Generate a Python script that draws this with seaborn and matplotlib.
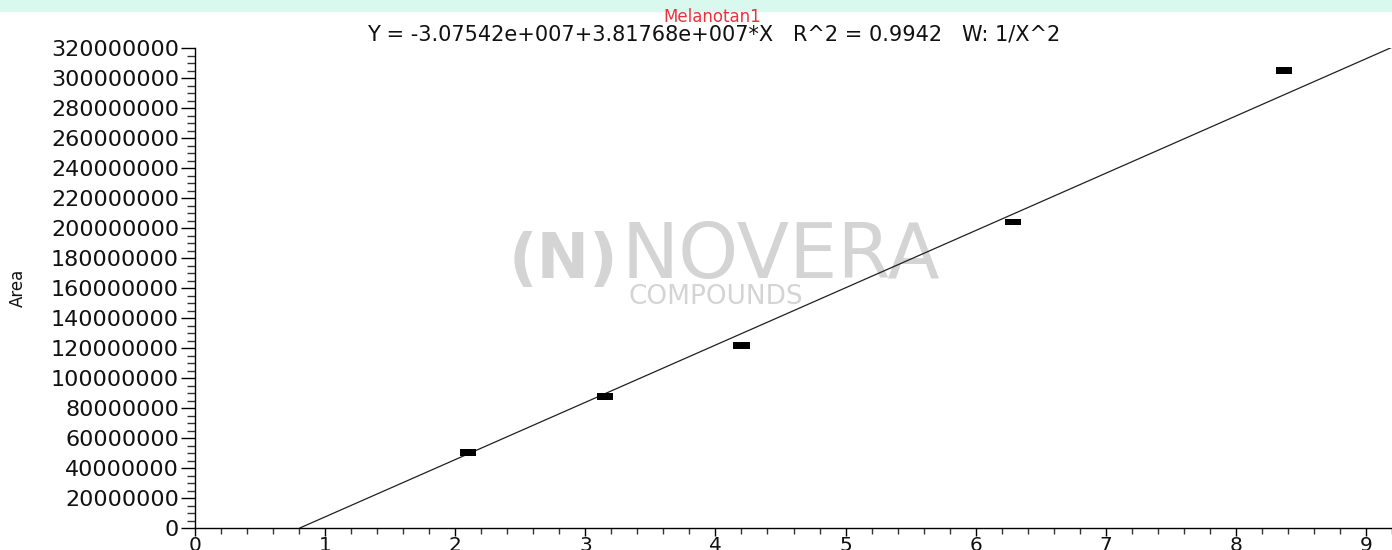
import numpy as np
import pandas as pd
import matplotlib
matplotlib.use("Agg")
import matplotlib.pyplot as plt
from matplotlib.ticker import MultipleLocator, FuncFormatter
from matplotlib.patches import Rectangle
import seaborn as sns

# ---- data ----
conc = [2.10, 3.15, 4.20, 6.29, 8.37]
area = [50.5e6, 87.5e6, 121.5e6, 204.0e6, 305.0e6]
intercept = -3.07542e7
slope = 3.81768e7
compound = "Melanotan1"
equation = "Y = -3.07542e+007+3.81768e+007*X   R^2 = 0.9942   W: 1/X^2"
x_limits = [0, 9.2]
y_limits = [0, 320e6]

sns.set_theme(style="white")
plt.rcParams['font.family'] = ['DejaVu Sans']

fig = plt.figure(figsize=(13.92, 5.5), dpi=100)
fig.patches.append(Rectangle((0, 1 - 12 / 550), 1, 12 / 550, transform=fig.transFigure,
                             facecolor="#d9f8ee", edgecolor="none", zorder=0))
ax = fig.add_axes([195 / 1392, 22 / 550, 1 - 195 / 1392, 480 / 550])
ax.set_facecolor("white")

# watermark
ax.text(0.262, 0.521, "(N)", transform=ax.transAxes, fontsize=45, fontweight="bold",
        color="#d4d4d4", ha="left", va="baseline", zorder=0)
ax.text(0.356, 0.521, "NOVERA", transform=ax.transAxes, fontsize=55,
        color="#d4d4d4", ha="left", va="baseline", zorder=0)
ax.text(0.362, 0.481, "COMPOUNDS", transform=ax.transAxes, fontsize=19,
        color="#d4d4d4", ha="left", va="center", zorder=0)

# regression line
x0 = -intercept / slope
line_df = pd.DataFrame({"x": [x0, x_limits[1]]})
line_df["y"] = intercept + slope * line_df["x"]
sns.lineplot(data=line_df, x="x", y="y", ax=ax, color="#202020", linewidth=0.9, zorder=2)

# points
pts = pd.DataFrame({"conc": conc, "area": area})
rect = [(-1, -0.42), (1, -0.42), (1, 0.42), (-1, 0.42), (-1, -0.42)]
sns.scatterplot(data=pts, x="conc", y="area", ax=ax, marker=rect, s=135,
                color="black", edgecolor="none", zorder=3)

ax.set_xlim(*x_limits)
ax.set_ylim(*y_limits)
ax.set_xlabel("")
ax.set_ylabel("")

for s in ["top", "right"]:
    ax.spines[s].set_visible(False)
for s in ["left", "bottom"]:
    ax.spines[s].set_color("black")
    ax.spines[s].set_linewidth(1.0)

ax.xaxis.set_major_locator(MultipleLocator(1))
ax.xaxis.set_minor_locator(MultipleLocator(0.2))
ax.yaxis.set_major_locator(MultipleLocator(20e6))
ax.yaxis.set_minor_locator(MultipleLocator(5e6))
ax.yaxis.set_major_formatter(FuncFormatter(lambda v, p: f"{v:.0f}"))
ax.xaxis.set_major_formatter(FuncFormatter(lambda v, p: f"{v:.0f}"))

ax.tick_params(axis="y", which="major", direction="out", length=10, width=1, color="black",
               labelsize=16, pad=1.5, labelcolor="#111111", left=True)
ax.tick_params(axis="y", which="minor", direction="out", length=5.5, width=1, color="#333333", left=True)
ax.tick_params(axis="x", which="major", direction="out", length=6, width=1, color="black",
               labelsize=14.5, pad=0, labelcolor="#111111", bottom=True)
ax.tick_params(axis="x", which="minor", direction="out", length=4, width=1, color="#333333", bottom=True)

fig.text(18 / 1392, 1 - 288 / 550, "Area", rotation=90, fontsize=12, ha="center", va="center",
         color="#111111")
fig.text(712 / 1392, 1 - 22 / 550, compound, fontsize=12, color="#e8333c", ha="center",
         va="baseline")
fig.text(714 / 1392, 1 - 40 / 550, equation, fontsize=15, color="#111111", ha="center",
         va="baseline")

fig.savefig("out.png", dpi=100)
